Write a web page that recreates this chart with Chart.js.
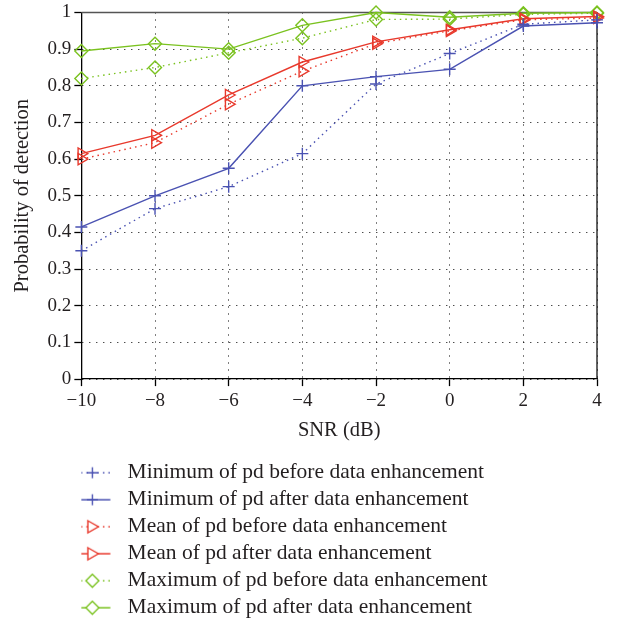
<!DOCTYPE html>
<html>
<head>
<meta charset="utf-8">
<script src="https://cdn.jsdelivr.net/npm/chart.js@4.4.1/dist/chart.umd.min.js"></script>
<style>
  html, body { margin: 0; padding: 0; background: #fff; }
</style>
</head>
<body>
<canvas id="myChart" width="621" height="624"></canvas>
<script>
    const snr = [-10, -8, -6, -4, -2, 0, 2, 4];
    const minBefore = [0.35, 0.465, 0.525, 0.615, 0.805, 0.888, 0.968, 0.98];
    const minAfter = [0.415, 0.50, 0.575, 0.80, 0.825, 0.845, 0.963, 0.972];
    const meanBefore = [0.60, 0.645, 0.75, 0.84, 0.915, 0.95, 0.98, 0.985];
    const meanAfter = [0.615, 0.665, 0.775, 0.865, 0.92, 0.953, 0.983, 0.989];
    const maxBefore = [0.82, 0.85, 0.89, 0.93, 0.981, 0.982, 0.995, 0.998];
    const maxAfter = [0.895, 0.915, 0.90, 0.965, 1.0, 0.987, 0.998, 1.0];
    const labels = [
        "Minimum of pd before data enhancement",
        "Minimum of pd after data enhancement",
        "Mean of pd before data enhancement",
        "Mean of pd after data enhancement",
        "Maximum of pd before data enhancement",
        "Maximum of pd after data enhancement"
    ];

    const blue = "#4a52b2";
    const red = "#e8392c";
    const green = "#7ac21f";
    const textColor = "#231f20";
    const font = "'Liberation Serif', serif";
    const dotted = [1.5, 4];

    function pts(values) {
        return snr.map((x, i) => ({ x: x, y: values[i] }));
    }

    // legend sample: short line with the marker in the middle
    function legendIcon(color, dash, marker) {
        const c = document.createElement("canvas");
        c.width = 60;
        c.height = 16;
        const g = c.getContext("2d");
        g.strokeStyle = color;
        g.lineWidth = 1.4;
        g.setLineDash(dash);
        g.beginPath();
        g.moveTo(3.5, 8);
        g.lineTo(38.5, 8);
        g.stroke();
        g.setLineDash([]);
        const cx = 20.5, cy = 8;
        g.beginPath();
        if (marker === "cross") {
            g.moveTo(cx - 5.5, cy); g.lineTo(cx + 5.5, cy);
            g.moveTo(cx, cy - 5.5); g.lineTo(cx, cy + 5.5);
        } else if (marker === "triangle") {
            g.moveTo(cx - 4.5, cy - 6); g.lineTo(cx + 6, cy); g.lineTo(cx - 4.5, cy + 6); g.closePath();
            g.fillStyle = "#fff"; g.fill();
        } else {
            g.moveTo(cx, cy - 6.5); g.lineTo(cx + 6.5, cy); g.lineTo(cx, cy + 6.5); g.lineTo(cx - 6.5, cy); g.closePath();
            g.fillStyle = "#fff"; g.fill();
        }
        g.stroke();
        return c;
    }

    function series(label, values, color, dash, marker) {
        return {
            label: label,
            data: pts(values),
            borderColor: color,
            borderWidth: 1.4,
            borderDash: dash,
            pointStyle: marker,
            pointRotation: marker === "triangle" ? 90 : 0,
            pointRadius: marker === "cross" ? 6 : 6.5,
            pointBorderColor: color,
            pointBorderWidth: 1.4,
            pointBackgroundColor: "rgba(0,0,0,0)",
            tension: 0,
            fill: false,
            clip: false,
            icon: legendIcon(color, dash, marker === "rectRot" ? "diamond" : marker)
        };
    }

    const frame = {
        id: "frame",
        beforeDatasetsDraw(chart) {
            const { ctx, chartArea: a } = chart;
            ctx.save();
            ctx.lineWidth = 1.3;
            ctx.strokeStyle = "#555";
            ctx.beginPath();
            ctx.moveTo(a.left, a.top);
            ctx.lineTo(a.right, a.top);
            ctx.stroke();
            ctx.strokeStyle = "#111";
            ctx.beginPath();
            ctx.moveTo(a.right, a.top);
            ctx.lineTo(a.right, a.bottom);
            ctx.stroke();
            ctx.restore();
        }
    };

    const gridStyle = {
        color: "#000",
        lineWidth: 1,
        tickLength: 7,
        tickColor: "#000",
        tickWidth: 1.3,
        tickBorderDash: []
    };

    new Chart("myChart", {
        type: "line",
        data: {
            datasets: [
                series(labels[0], minBefore, blue, dotted, "cross"),
                series(labels[1], minAfter, blue, [], "cross"),
                series(labels[2], meanBefore, red, dotted, "triangle"),
                series(labels[3], meanAfter, red, [], "triangle"),
                series(labels[4], maxBefore, green, dotted, "rectRot"),
                series(labels[5], maxAfter, green, [], "rectRot")
            ]
        },
        options: {
            responsive: false,
            animation: false,
            layout: { padding: { top: 0, right: 24, bottom: -4.5, left: 10 } },
            scales: {
                x: {
                    type: "linear",
                    min: -10,
                    max: 4,
                    ticks: {
                        stepSize: 2,
                        color: textColor,
                        font: { family: font, size: 19 },
                        padding: 4,
                        callback: v => String(v).replace("-", "\u2212")
                    },
                    grid: gridStyle,
                    border: { color: "#000", width: 1.3, dash: [1, 6] },
                    title: {
                        display: true,
                        text: "SNR (dB)",
                        color: textColor,
                        font: { family: font, size: 20.5 },
                        padding: { top: 1, bottom: 14 }
                    }
                },
                y: {
                    min: 0,
                    max: 1,
                    ticks: {
                        stepSize: 0.1,
                        color: textColor,
                        font: { family: font, size: 19, lineHeight: 1.0 },
                        padding: 3,
                        callback: v => String(Number(v.toFixed(1)))
                    },
                    grid: gridStyle,
                    border: { color: "#000", width: 1.3, dash: [1, 6] },
                    title: {
                        display: true,
                        text: "Probability of detection",
                        color: textColor,
                        font: { family: font, size: 20.5 },
                        padding: { top: 0, bottom: 10 }
                    }
                }
            },
            plugins: {
                tooltip: { enabled: false },
                legend: {
                    position: "bottom",
                    align: "start",
                    fullSize: false,
                    labels: {
                        usePointStyle: true,
                        pointStyleWidth: 30,
                        padding: 5.5,
                        color: textColor,
                        font: { family: font, size: 21.5 },
                        generateLabels: chart => chart.data.datasets.map((ds, i) => ({
                            text: ds.label,
                            pointStyle: ds.icon,
                            datasetIndex: i,
                            hidden: false,
                            lineWidth: 0,
                            fontColor: textColor
                        }))
                    }
                }
            }
        },
        plugins: [frame]
    });
</script>
</body>
</html>
